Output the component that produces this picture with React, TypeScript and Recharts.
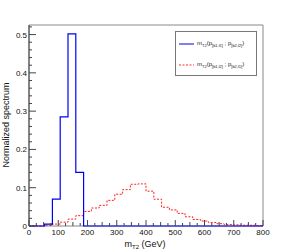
import React from "react";
import {
  ComposedChart,
  Line,
  XAxis,
  YAxis,
  ReferenceArea,
} from "recharts";

// 30 bins between 0 and 800 GeV
const X_MAX = 800;
const BIN_COUNT = 30;

// m_T2(p[b1,l1] ; p[b2,l2])  -- correct pairing
const correctPairing = [
  0, 0, 0.005, 0.07, 0.285, 0.502, 0.14, 0, 0, 0,
  0, 0, 0, 0, 0, 0, 0, 0, 0, 0,
  0, 0, 0, 0, 0, 0, 0, 0, 0, 0,
];

// m_T2(p[b1,l2] ; p[b2,l1])  -- wrong pairing
const wrongPairing = [
  0, 0, 0.002, 0.005, 0.01, 0.018, 0.027, 0.038, 0.047, 0.054,
  0.067, 0.083, 0.095, 0.109, 0.11, 0.091, 0.07, 0.049, 0.042, 0.033,
  0.024, 0.017, 0.013, 0.009, 0.006, 0.004, 0.003, 0.002, 0.002, 0.001,
];

const xMajorLabels = ["0", "100", "200", "300", "400", "500", "600", "700", "800"];
const yMajorLabels = ["0", "0.1", "0.2", "0.3", "0.4", "0.5"];

const Y_MAX = 0.525;
const FONT = "'Liberation Sans', Arial, sans-serif";

const binEdges = Array.from({ length: BIN_COUNT + 1 }, (_, i) => (i * X_MAX) / BIN_COUNT);
const data = binEdges.map((x, i) => {
  const b = Math.min(i, BIN_COUNT - 1);
  return { x, correct: correctPairing[b], wrong: wrongPairing[b] };
});

const xTicks = Array.from({ length: 33 }, (_, i) => i * 25);
const yTicks = Array.from({ length: 27 }, (_, i) => Math.round(i * 2) / 100);

function XTick(props: any) {
  const { x, y, payload } = props;
  const v = payload.value;
  const major = v % 100 === 0;
  const len = major ? 6 : v % 50 === 0 ? 4 : 3;
  const label = xMajorLabels.find((l) => Number(l) === v);
  return (
    <g>
      <line x1={x} x2={x} y1={y} y2={y - len} stroke="#444" strokeWidth={1} />
      {major && label !== undefined && (
        <text x={x} y={y + 8.5} textAnchor="middle" fontSize={8} fontFamily={FONT} fill="#111">
          {label}
        </text>
      )}
    </g>
  );
}

function YTick(props: any) {
  const { x, y, payload } = props;
  const v = payload.value;
  const idx = Math.round(v * 100);
  const major = idx % 10 === 0;
  const len = major ? 7 : 3;
  return (
    <g>
      <line x1={x} x2={x + len} y1={y} y2={y} stroke="#444" strokeWidth={1} />
      {major && (
        <text x={x - 2} y={y + 3} textAnchor="end" fontSize={8} fontFamily={FONT} fill="#111">
          {yMajorLabels[idx / 10]}
        </text>
      )}
    </g>
  );
}

function MT2Label({ a, b }: { a: string; b: string }) {
  const sub = { fontSize: 4, verticalAlign: "-2px" } as React.CSSProperties;
  return (
    <span style={{ whiteSpace: "nowrap" }}>
      m<span style={sub}>T2</span>(p<span style={sub}>{a}</span> ; p<span style={sub}>{b}</span>)
    </span>
  );
}

function LegendBox() {
  const row = { display: "flex", alignItems: "center", height: 21 } as React.CSSProperties;
  return (
    <div
      style={{
        position: "absolute",
        left: 175,
        top: 31,
        width: 82,
        height: 45,
        border: "1px solid #777",
        boxSizing: "border-box",
        background: "#fff",
        fontFamily: FONT,
        fontSize: 6,
        color: "#222",
        padding: "1px 2px",
        overflow: "hidden",
      }}
    >
      <div style={row}>
        <svg width={17} height={4} style={{ marginRight: 2, flex: "none" }}>
          <line x1={1} x2={16} y1={2} y2={2} stroke="#0000e0" strokeWidth={1} />
        </svg>
        <MT2Label a="[b1,l1]" b="[b2,l2]" />
      </div>
      <div style={row}>
        <svg width={17} height={4} style={{ marginRight: 2, flex: "none" }}>
          <line x1={1} x2={16} y1={2} y2={2} stroke="#ff3030" strokeWidth={1} strokeDasharray="2 1.5" />
        </svg>
        <MT2Label a="[b1,l2]" b="[b2,l1]" />
      </div>
    </div>
  );
}

export default function App() {
  return (
    <div style={{ position: "absolute", left: 0, top: 0, width: 292, height: 251, background: "#fff" }}>
      <ComposedChart
        width={292}
        height={251}
        data={data}
        margin={{ top: 25, right: 29, bottom: 0, left: 0 }}
      >
        <ReferenceArea
          x1={0}
          x2={X_MAX}
          y1={0}
          y2={Y_MAX}
          fill="none"
          stroke="#888"
          strokeWidth={1}
          fillOpacity={0}
        />
        <XAxis
          type="number"
          dataKey="x"
          domain={[0, X_MAX]}
          ticks={xTicks}
          interval={0}
          height={25}
          tickSize={0}
          tickMargin={0}
          axisLine={false}
          tickLine={false}
          tick={<XTick />}
          label={{
            value: "m",
            content: () => (
              <text x={145} y={247} textAnchor="middle" fontSize={9} fontFamily={FONT} fill="#111">
                m<tspan fontSize={6} dy={2}>T2</tspan>
                <tspan dy={-2}> (GeV)</tspan>
              </text>
            ),
          }}
        />
        <YAxis
          type="number"
          domain={[0, Y_MAX]}
          ticks={yTicks}
          interval={0}
          width={29}
          tickSize={0}
          tickMargin={0}
          axisLine={{ stroke: "#444" }}
          tickLine={false}
          tick={<YTick />}
          label={{
            value: "Normalized spectrum",
            content: () => (
              <text
                x={9}
                y={125}
                transform="rotate(-90 9 125)"
                textAnchor="middle"
                fontSize={9}
                fontFamily={FONT}
                fill="#111"
              >
                Normalized spectrum
              </text>
            ),
          }}
        />
        <Line
          type="stepAfter"
          dataKey="wrong"
          stroke="#ff2020"
          strokeWidth={1}
          strokeDasharray="2 1.5"
          dot={false}
          isAnimationActive={false}
        />
        <Line
          type="stepAfter"
          dataKey="correct"
          stroke="#0000f0"
          strokeWidth={1.2}
          dot={false}
          isAnimationActive={false}
        />
      </ComposedChart>
      <LegendBox />
    </div>
  );
}
